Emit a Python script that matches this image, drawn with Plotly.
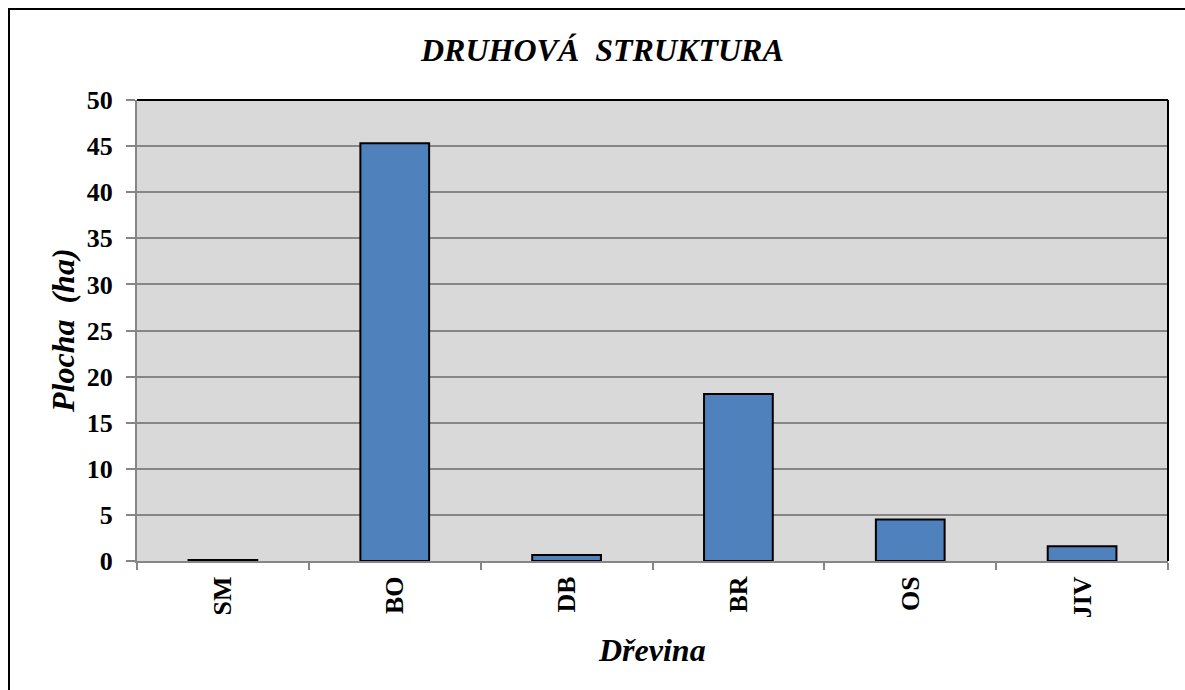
import plotly.graph_objects as go

categories = ["SM", "BO", "DB", "BR", "OS", "JIV"]
values = [0.1, 45.3, 0.65, 18.1, 4.5, 1.6]
y_ticks = [0, 5, 10, 15, 20, 25, 30, 35, 40, 45, 50]

FONT = "Liberation Serif, Times New Roman, serif"
W, H = 1185, 690
L, R, T, B = 137, 17, 100, 129
pw, ph = W - L - R, H - T - B

def px(x):
    return (x - L) / pw

def py(y):
    return (H - B - y) / ph

fig = go.Figure(go.Bar(
    x=categories, y=values,
    marker=dict(color="#4F81BD", line=dict(color="black", width=2)),
    width=0.4,
))

fig.update_layout(
    width=W, height=H,
    margin=dict(l=L, r=R, t=T, b=B),
    paper_bgcolor="white", plot_bgcolor="#D9D9D9",
    showlegend=False,
    font=dict(family=FONT, color="black"),
)
fig.update_xaxes(
    showline=True, linecolor="#868686", linewidth=2,
    ticks="outside", tickson="boundaries", ticklen=7, tickcolor="#868686", tickwidth=1.5,
    tickangle=-90, tickfont=dict(family=FONT, size=26, weight="bold"),
    ticklabelstandoff=3, showgrid=False,
)
fig.update_yaxes(
    range=[0, 50], tickvals=y_ticks,
    showline=True, linecolor="#868686", linewidth=2,
    ticks="outside", ticklen=9, tickcolor="#868686", tickwidth=1.5,
    tickfont=dict(family=FONT, size=26, weight="bold"),
    ticklabelstandoff=8,
    showgrid=True, gridcolor="#868686", gridwidth=1.5,
    zeroline=False,
)

shapes = [
    dict(type="line", xref="paper", yref="paper", x0=0, x1=1, y0=1, y1=1,
         line=dict(color="black", width=2)),
    dict(type="line", xref="paper", yref="paper", x0=1, x1=1, y0=0, y1=1,
         line=dict(color="black", width=2)),
    dict(type="rect", xref="paper", yref="paper",
         x0=px(9), x1=px(1195), y0=py(9), y1=py(700),
         line=dict(color="black", width=2)),
]
fig.update_layout(shapes=shapes)

ann_font = dict(family=FONT, size=32, weight="bold", style="italic")
fig.add_annotation(text="DRUHOVÁ\u00a0\u00a0STRUKTURA", xref="paper", yref="paper",
                   x=px(602), y=py(50), xanchor="center", yanchor="middle",
                   showarrow=False, font=ann_font)
fig.add_annotation(text="Plocha\u00a0\u00a0(ha)", xref="paper", yref="paper",
                   x=px(63), y=py(331), xanchor="center", yanchor="middle",
                   showarrow=False, textangle=-90, font=ann_font)
fig.add_annotation(text="Dřevina", xref="paper", yref="paper",
                   x=px(652), y=py(650), xanchor="center", yanchor="middle",
                   showarrow=False, font=ann_font)

fig.write_html("out.html", config={"displayModeBar": False},
               post_script="document.body.style.margin='0';")
